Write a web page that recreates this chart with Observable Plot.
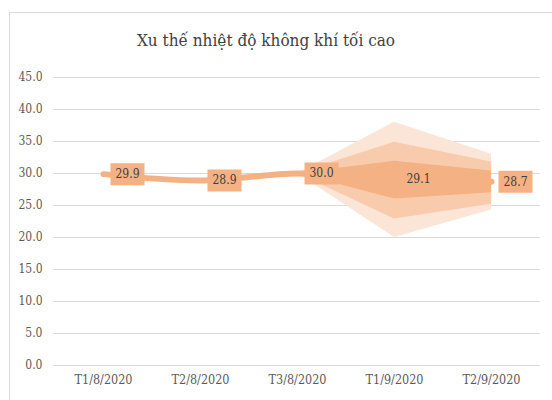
<!DOCTYPE html>
<html>
<head>
<meta charset="utf-8">
<script src="https://cdn.jsdelivr.net/npm/d3@7"></script>
<script src="https://cdn.jsdelivr.net/npm/@observablehq/plot@0.6"></script>
<style>
  html, body { margin: 0; padding: 0; background: #fff; }
  #wrap { position: relative; width: 552px; height: 400px; overflow: hidden; }
  #border { position: absolute; left: 9px; top: 12px; width: 600px; height: 500px; border: 1px solid #D9D9D9; box-sizing: border-box; }
  #title { position: absolute; left: 0; top: 32px; width: 532px; text-align: center;
    font-family: "DejaVu Serif Condensed", "DejaVu Serif"; font-stretch: condensed; font-size: 17px; color: #404040; line-height: 1; }
  #chart { position: absolute; left: 0; top: 0; }
</style>
</head>
<body>
<div id="wrap">
  <div id="border"></div>
  <div id="chart"></div>
  <div id="title">Xu thế nhiệt độ không khí tối cao</div>
</div>
<script>
const titleText = "Xu thế nhiệt độ không khí tối cao";
const periods = ["T1/8/2020", "T2/8/2020", "T3/8/2020", "T1/9/2020", "T2/9/2020"];
const tmax = [29.9, 28.9, 30.0, 29.1, 28.7];
const boxed = [true, true, true, false, true];
const fanPeriods = ["T3/8/2020", "T1/9/2020", "T2/9/2020"];
const outerLow = [30.0, 20.0, 24.3];
const outerHigh = [30.0, 38.0, 33.0];
const midLow = [30.0, 22.9, 25.2];
const midHigh = [30.0, 34.9, 31.8];
const innerLow = [30.0, 26.0, 27.0];
const innerHigh = [30.0, 31.9, 30.4];
const yTicks = [0, 5, 10, 15, 20, 25, 30, 35, 40, 45];

const series = periods.map((p, i) => ({period: p, value: tmax[i], boxed: boxed[i]}));
const fan = fanPeriods.map((p, i) => ({
  period: p, oL: outerLow[i], oH: outerHigh[i], mL: midLow[i], mH: midHigh[i], iL: innerLow[i], iH: innerHigh[i]
}));

const boxSymbol = { draw(context) { context.rect(-17, -11, 34, 22); } };
const orange = "#F4B183";

const chart = Plot.plot({
  width: 552,
  height: 400,
  marginTop: 77,
  marginBottom: 35,
  marginLeft: 53,
  marginRight: 12,
  style: { fontFamily: "'DejaVu Serif Condensed', 'DejaVu Serif'", fontStretch: "condensed", background: "transparent" },
  x: { type: "point", domain: periods, padding: 0.5, label: null },
  y: { domain: [0, 45], label: null },
  marks: [
    Plot.gridY(yTicks, { stroke: "#D9D9D9", strokeOpacity: 1 }),
    Plot.axisY(yTicks, { tickFormat: d => d.toFixed(1), tickSize: 0, tickPadding: 11, fontSize: 12, color: "#595959", label: null }),
    Plot.axisX({ tickSize: 0, tickPadding: 10, fontSize: 12.5, color: "#595959", label: null }),
    Plot.areaY(fan, { x: "period", y1: "oL", y2: "oH", fill: "#FBE5D6" }),
    Plot.areaY(fan, { x: "period", y1: "mL", y2: "mH", fill: "#F8CBAD" }),
    Plot.areaY(fan, { x: "period", y1: "iL", y2: "iH", fill: orange }),
    Plot.line(series, { x: "period", y: "value", stroke: orange, strokeWidth: 6, curve: "catmull-rom", strokeLinecap: "round" }),
    Plot.dot(series.filter(d => d.boxed), { x: "period", y: "value", symbol: boxSymbol, fill: orange, stroke: null, dx: 24 }),
    Plot.text(series, { x: "period", y: "value", text: d => d.value.toFixed(1), dx: 24, fontSize: 12, fill: "#404040" })
  ]
});
document.getElementById("chart").appendChild(chart);
</script>
</body>
</html>
